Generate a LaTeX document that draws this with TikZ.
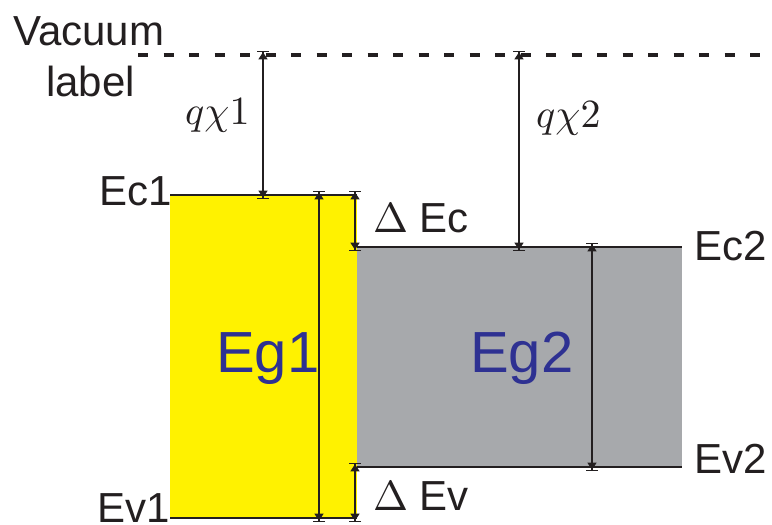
\documentclass[tikz,border=0pt]{standalone}
\usepackage{fontspec}
\usepackage{graphicx}
\setmainfont{Liberation Sans}
\usetikzlibrary{arrows.meta}
\definecolor{band1}{HTML}{FFF200}
\definecolor{band2}{HTML}{A7A9AC}
\definecolor{egblue}{HTML}{2E3192}
\definecolor{ink}{HTML}{231F20}
\newcommand{\bigdelta}{\scalebox{4.2}{\fontsize{10}{12}\selectfont$\Delta$}}
\newcommand{\bigmath}[1]{\scalebox{4}{\fontsize{10}{12}\selectfont$#1$}}
\tikzset{
  lbl/.style={anchor=base west, inner sep=0pt, text=ink, font=\fontsize{42}{48}\selectfont},
  eglbl/.style={anchor=base west, inner sep=0pt, text=egblue, font=\fontsize{58}{64}\selectfont},
  mlbl/.style={anchor=base west, inner sep=0pt, text=ink, font=\fontsize{10}{12}\selectfont},
  level/.style={line width=1.8pt, draw=ink},
  dimarrow/.style={line width=1.3pt, draw=ink,
    {Bar[width=12pt,line width=1.3pt]Triangle[length=7pt,width=9pt]}-{Triangle[length=7pt,width=9pt]Bar[width=12pt,line width=1.3pt]}},
  vac/.style={line width=4.5pt, draw=ink, dash pattern=on 10pt off 15.5pt}
}
\begin{document}
\begin{tikzpicture}[x=1pt,y=-1pt]
\useasboundingbox (0,0) rectangle (772,525);
% bands
\fill[band1] (170,195) rectangle (357,518);
\fill[band2] (357,247) rectangle (682,467);
% vacuum level
\coordinate (vacL) at (138,55);
\coordinate (vacR) at (762,55);
\draw[vac] (vacL) -- (vacR);
% band edges
\coordinate (ec1L) at (170,195); \coordinate (ec1R) at (357,195);
\coordinate (ev1L) at (170,518); \coordinate (ev1R) at (357,518);
\coordinate (ec2L) at (357,247); \coordinate (ec2R) at (682,247);
\coordinate (ev2L) at (357,467); \coordinate (ev2R) at (682,467);
\draw[level] (ec1L) -- (ec1R);
\draw[level] (ev1L) -- (ev1R);
\draw[level] (ec2L) -- (ec2R);
\draw[level] (ev2L) -- (ev2R);
% arrow end points
\coordinate (x1t) at (263,51);  \coordinate (x1b) at (263,199);
\coordinate (x2t) at (519,51);  \coordinate (x2b) at (519,251);
\coordinate (g1t) at (319,191); \coordinate (g1b) at (319,522);
\coordinate (dct) at (355,191); \coordinate (dcb) at (355,251);
\coordinate (dvt) at (355,463); \coordinate (dvb) at (355,522);
\coordinate (g2t) at (592,243); \coordinate (g2b) at (592,471);
\draw[dimarrow] (x1t) -- (x1b);
\draw[dimarrow] (x2t) -- (x2b);
\draw[dimarrow] (g1t) -- (g1b);
\draw[dimarrow] (dct) -- (dcb);
\draw[dimarrow] (dvt) -- (dvb);
\draw[dimarrow] (g2t) -- (g2b);
% labels
\node[lbl] (vacuum) at (13,45) {Vacuum};
\node[lbl] (label) at (46,96) {label};
\node[mlbl] (chi1) at (185,124) {\bigmath{q\chi 1}};
\node[mlbl] (chi2) at (536,127) {\bigmath{q\chi 2}};
\node[lbl] (Ec1) at (99,205) {Ec1};
\node[lbl] (Ev1) at (97,522) {Ev1};
\node[lbl] (Ec2) at (694,260) {Ec2};
\node[lbl] (Ev2) at (694,473) {Ev2};
\node[lbl] (dEc) at (373,232) {\bigdelta\ Ec};
\node[lbl] (dEv) at (373,510) {\bigdelta\ Ev};
\node[eglbl] (Eg1) at (216,372) {Eg1};
\node[eglbl] (Eg2) at (470,372) {Eg2};
\end{tikzpicture}
\end{document}
